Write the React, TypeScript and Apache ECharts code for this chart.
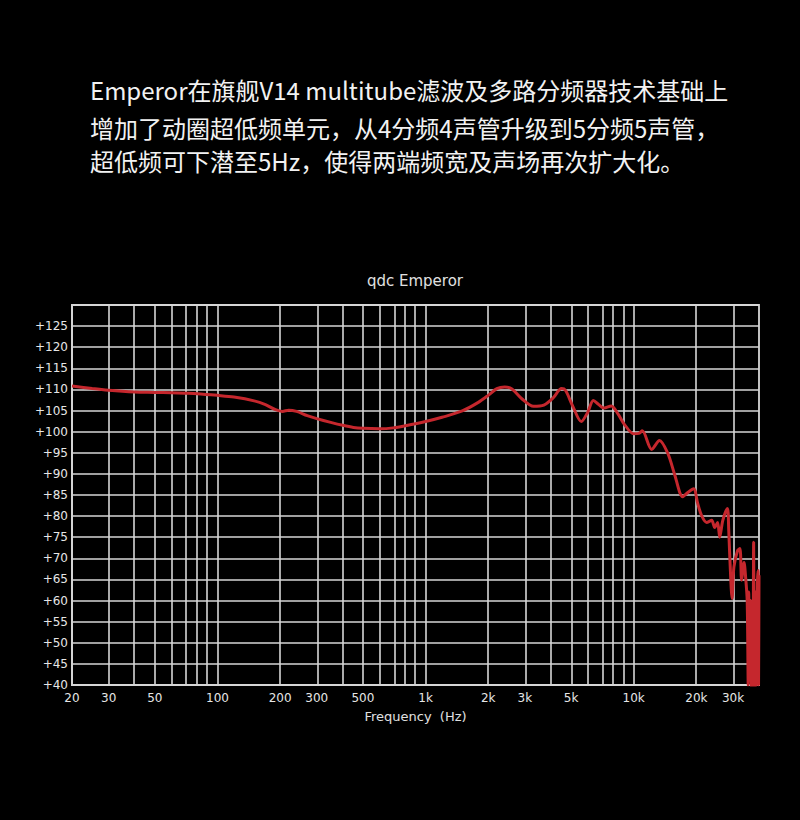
import React, { useEffect, useRef } from "react";
import * as echarts from "echarts";

const headlineLines = [
  "Emperor在旗舰V14 multitube滤波及多路分频器技术基础上",
  "增加了动圈超低频单元，从4分频4声管升级到5分频5声管，",
  "超低频可下潜至5Hz，使得两端频宽及声场再次扩大化。",
];

const chartTitle = "qdc Emperor";
const xAxisName = "Frequency  (Hz)";

const tickLabelHz = [20, 30, 50, 100, 200, 300, 500, 1000, 2000, 3000, 5000, 10000, 20000, 30000];
const gridLineHz = [
  30, 40, 50, 60, 70, 80, 90, 100,
  200, 300, 400, 500, 600, 700, 800, 900, 1000,
  2000, 3000, 4000, 5000, 6000, 7000, 8000, 9000, 10000,
  20000, 30000,
];

const freqHz = [
  20, 25, 30, 40, 50, 60, 70, 80, 100, 120, 150, 170, 190, 205, 220, 240, 270, 300, 350, 400,
  450, 500, 600, 700, 800, 1000, 1200, 1500, 1800, 2000, 2200, 2400, 2600, 2900, 3300, 3700,
  4100, 4500, 4700, 5100, 5600, 6000, 6400, 6800, 7200, 7800, 8400, 9000, 10000, 10600, 11000,
  12200, 13300, 14600, 15700, 17200, 18200, 19400, 20300, 21200, 22400, 23700, 24500, 25300,
  25900, 26800, 28200, 28600, 29000, 29700, 30300, 31600, 32400, 33000, 33900, 34500, 35100,
  35500, 35700, 36100, 36500, 36800, 37100, 37400, 37700, 38000, 38300, 38600, 38900, 39300,
  39600, 39800, 40000,
];
const splDb = [
  110.8, 110.2, 109.8, 109.4, 109.3, 109.2, 109.1, 109.0, 108.6, 108.2, 107.3, 106.4, 105.2, 104.8, 105.1, 104.8, 103.8, 103.1, 102.2, 101.5,
  101.0, 100.8, 100.7, 100.9, 101.4, 102.4, 103.4, 104.9, 107.0, 108.6, 110.2, 110.6, 110.1, 107.8, 106.0, 106.3,
  108.0, 110.2, 109.8, 106.0, 102.4, 104.5, 107.4, 106.4, 105.6, 106.1, 104.2, 101.8, 99.5, 99.6, 100.2,
  95.8, 97.9, 94.8, 90.0, 84.6, 85.6, 86.5, 83.0, 80.1, 78.5, 79.0, 77.3, 78.5,
  75.0, 79.0, 81.8, 77.0, 69.5, 60.5, 67.9, 71.9, 72.3, 64.8, 69.0, 65.5, 60.0,
  40.0, 62.0, 47.0, 60.0, 38.0, 58.0, 38.0, 73.8, 40.0, 38.0, 62.0, 40.0, 64.0,
  67.1, 40.0, 66.0,
];

const fmtHz = (hz: number) => (hz >= 1000 ? `${Math.round(hz / 1000)}k` : `${hz}`);

export default function App() {
  const ref = useRef<HTMLDivElement>(null);

  useEffect(() => {
    document.body.style.background = "#000";
    const chart = echarts.init(ref.current!, undefined, { renderer: "svg" });
    const lg = (v: number) => Math.log10(v);
    const curve = freqHz.map((f, i) => [lg(f), splDb[i]]);
    const gridColor = "#d6d6d6";

    chart.setOption({
      animation: false,
      backgroundColor: "#000",
      textStyle: { fontFamily: "DejaVu Sans" },
      graphic: [
        ...headlineLines.map((t, i) => ({
          type: "text",
          x: 90,
          y: [89, 127, 160][i],
          style: {
            text: t,
            fill: "#f2f2f2",
            font: '24px "Noto Sans CJK SC"',
            verticalAlign: "middle",
          },
        })),
        {
          type: "text",
          x: 415,
          y: 281,
          style: {
            text: chartTitle,
            fill: "#e0e0e0",
            font: '15px "DejaVu Sans"',
            align: "center",
            verticalAlign: "middle",
          },
        },
      ],
      grid: {
        left: 72,
        right: 41,
        top: 305,
        bottom: 135,
        show: true,
        borderColor: gridColor,
        borderWidth: 1.8,
      },
      xAxis: {
        type: "value",
        min: lg(20),
        max: lg(40000),
        name: xAxisName,
        nameLocation: "middle",
        nameGap: 25,
        nameTextStyle: { color: "#e0e0e0", fontSize: 13, fontFamily: "DejaVu Sans" },
        axisLine: { show: true, lineStyle: { color: gridColor, width: 1.8 } },
        axisTick: { show: false },
        splitLine: { show: false },
        axisLabel: {
          customValues: tickLabelHz.map(lg),
          formatter: (v: number) => fmtHz(Math.round(Math.pow(10, v))),
          color: "#e6e6e6",
          fontSize: 12,
          margin: 7,
          fontFamily: "DejaVu Sans",
        },
      },
      yAxis: {
        type: "value",
        min: 40,
        max: 130,
        interval: 5,
        axisLine: { show: true, lineStyle: { color: gridColor, width: 1.8 } },
        axisTick: { show: false },
        splitLine: { show: true, lineStyle: { color: gridColor, width: 1.6 } },
        axisLabel: {
          formatter: (v: number) => (v >= 130 ? "" : `+${v}`),
          color: "#e6e6e6",
          fontSize: 12,
          margin: 4,
          fontFamily: "DejaVu Sans",
        },
      },
      series: [
        {
          type: "line",
          z: 1,
          data: [[lg(20), 40]],
          showSymbol: false,
          symbol: "none",
          lineStyle: { opacity: 0 },
          silent: true,
          markLine: {
            silent: true,
            symbol: ["none", "none"],
            label: { show: false },
            lineStyle: { color: gridColor, width: 1.6, type: "solid" },
            data: gridLineHz.map((f) => ({ xAxis: lg(f) })),
          },
        },
        {
          type: "line",
          z: 5,
          data: curve,
          showSymbol: false,
          symbol: "none",
          smooth: 0.3,
          clip: true,
          lineStyle: { color: "#c5272d", width: 3 },
        },
      ],
    });
    return () => chart.dispose();
  }, []);

  return (
    <div
      ref={ref}
      style={{ position: "fixed", left: 0, top: 0, width: 800, height: 820 }}
    />
  );
}
